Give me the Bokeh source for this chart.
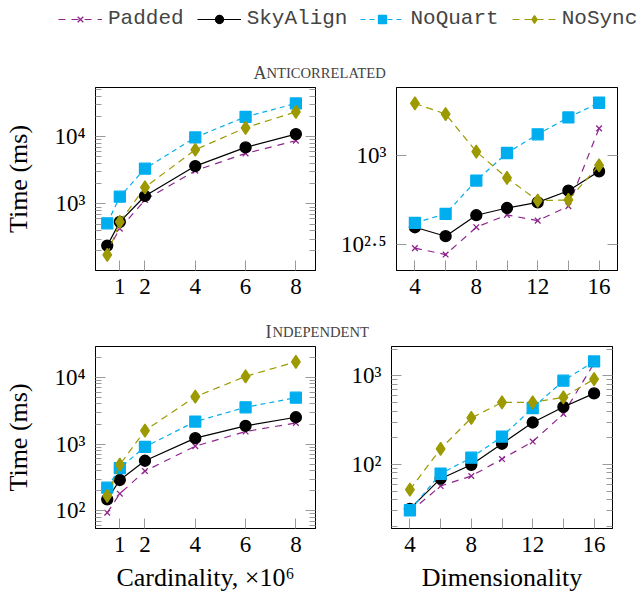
from bokeh.plotting import figure
from bokeh.models import (Range1d, FixedTicker, LogAxis, Label, Legend, LegendItem,
                          CustomJSTickFormatter)
from bokeh.layouts import column, row
from bokeh.embed import file_html
from bokeh.resources import INLINE

# ---------------- data ----------------
series_names = ["Padded", "SkyAlign", "NoQuart", "NoSync"]
card_x = [0.5, 1, 2, 4, 6, 8]
dim_x = [4, 6, 8, 10, 12, 14, 16]

anti_card_padded = [200, 430, 1145, 3130, 5650, 8730]
anti_card_skyalign = [240, 540, 1315, 3660, 6950, 10950]
anti_card_noquart = [516, 1285, 3350, 9780, 19800, 31300]
anti_card_nosync = [175, 540, 1770, 6410, 13600, 23500]

anti_dim_padded = [302, 278, 395, 463, 430, 518, 1408]
anti_dim_skyalign = [395, 352, 461, 506, 544, 632, 811]
anti_dim_noquart = [418, 469, 720, 1026, 1304, 1622, 1958]
anti_dim_nosync = [1941, 1693, 1044, 745, 556, 561, 876]

indep_card_padded = [94, 181, 395, 933, 1545, 2080]
indep_card_skyalign = [149, 290, 564, 1230, 1880, 2530]
indep_card_noquart = [223, 438, 912, 2180, 3560, 4970]
indep_card_nosync = [168, 492, 1600, 5140, 10350, 17100]

indep_dim_padded = [29.1, 57, 74, 115, 181, 371, 1380]
indep_dim_skyalign = [31.5, 69, 99, 171, 297, 445, 632]
indep_dim_noquart = [30.4, 78.5, 119, 206, 433, 879, 1450]
indep_dim_nosync = [51.9, 150, 334, 501, 501, 571, 918]

card_ticks = [1, 2, 4, 6, 8]
dim_ticks = [4, 8, 12, 16]
dim_unlabeled_ticks = [6, 10, 14]

# y tick positions (log axes) and their labels
yt_card_anti = [1000, 10000]
yt_dim_anti = [10 ** 2.5, 1000]
yt_card_ind = [100, 1000, 10000]
yt_dim_ind = [100, 1000]
ytick_labels = {"2": "10²", "2.5": "10²·⁵", "3": "10³", "4": "10⁴"}

# ---------------- styles ----------------
SERIF = "Liberation Serif"
MONO = "Liberation Mono"
TICK_COLOR = "#9a9a9a"

STYLE = {
    "Padded": dict(color="#8E258D", dash="7 6", marker="x", size=8),
    "SkyAlign": dict(color="#000000", dash="solid", marker="circle", size=11),
    "NoQuart": dict(color="#00AEEF", dash="5 4", marker="square", size=11),
    "NoSync": dict(color="#9C9A00", dash="7 5", marker="diamond", size=13),
}

LOG_FMT_CODE = """
const e = Math.round(Math.log10(tick) * 10) / 10;
const lab = labels[String(e)];
return lab === undefined ? String(tick) : lab;
"""


def log_formatter():
    return CustomJSTickFormatter(args=dict(labels=ytick_labels), code=LOG_FMT_CODE)


def add_series(p, x, y, name):
    st = STYLE[name]
    l = p.line(x, y, line_color=st["color"], line_width=1.2, line_dash=st["dash"])
    s = p.scatter(x, y, marker=st["marker"], size=st["size"],
                  fill_color=st["color"], line_color=st["color"], line_width=1.3)
    return l, s


def style_axis(ax):
    ax.axis_line_color = "black"
    ax.major_tick_in = 10
    ax.major_tick_out = 0
    ax.minor_tick_in = 6
    ax.minor_tick_out = 0
    ax.major_tick_line_color = TICK_COLOR
    ax.minor_tick_line_color = TICK_COLOR
    ax.major_label_text_font = SERIF
    ax.major_label_text_color = "black"
    ax.major_label_text_font_size = "23px"
    ax.axis_label_text_font = SERIF
    ax.axis_label_text_font_size = "26px"
    ax.axis_label_text_font_style = "normal"
    ax.axis_label_text_color = "black"


def panel(xs, ys_list, xr, yr, xticks, xminor, yticks, yminor,
          left, right, top, bottom, fw, fh, xlabel=None, ylabel=None):
    p = figure(frame_width=fw, frame_height=fh, y_axis_type="log",
               x_range=Range1d(*xr), y_range=Range1d(*yr), title=None,
               toolbar_location=None, output_backend="svg",
               min_border_left=left, min_border_right=right,
               min_border_top=top, min_border_bottom=bottom)
    p.xgrid.visible = False
    p.ygrid.visible = False
    p.outline_line_color = "black"
    p.outline_line_width = 1
    p.background_fill_color = "white"
    p.border_fill_color = "white"

    xa = p.xaxis[0]
    xa.ticker = FixedTicker(ticks=xticks, minor_ticks=xminor)
    style_axis(xa)
    xa.minor_tick_in = 10
    xa.major_label_standoff = 8
    if xlabel:
        xa.axis_label = xlabel
        xa.axis_label_standoff = 8

    ya = p.yaxis[0]
    ya.ticker = FixedTicker(ticks=yticks, minor_ticks=yminor)
    ya.formatter = log_formatter()
    style_axis(ya)
    ya.major_label_standoff = 10
    if ylabel:
        ya.axis_label = ylabel
        ya.axis_label_standoff = 18

    ra = LogAxis(ticker=FixedTicker(ticks=yticks, minor_ticks=yminor),
                 formatter=log_formatter())
    style_axis(ra)
    ra.major_label_text_font_size = "1px"
    ra.major_label_text_alpha = 0
    ra.major_label_standoff = 0
    p.add_layout(ra, "right")

    for name, ys in zip(series_names, ys_list):
        add_series(p, xs, ys, name)
    return p


minor_a = [200, 300, 400, 500, 600, 700, 800, 900,
           2000, 3000, 4000, 5000, 6000, 7000, 8000, 9000,
           20000, 30000, 40000, 50000]
minor_c = [60, 70, 80, 90, 200, 300, 400, 500, 600, 700, 800, 900,
           2000, 3000, 4000, 5000, 6000, 7000, 8000, 9000, 20000]
minor_d = [20, 30, 40, 50, 60, 70, 80, 90,
           200, 300, 400, 500, 600, 700, 800, 900, 2000]

p1 = panel(card_x, [anti_card_padded, anti_card_skyalign, anti_card_noquart, anti_card_nosync],
           (0.033, 8.78), (10 ** 2.01, 10 ** 4.733), card_ticks, [],
           yt_card_anti, minor_a,
           95, 22, 2, 35, 220, 183, ylabel="Time (ms)")
p2 = panel(dim_x, [anti_dim_padded, anti_dim_skyalign, anti_dim_noquart, anti_dim_nosync],
           (2.8, 17.2), (10 ** 2.355, 10 ** 3.377), dim_ticks, dim_unlabeled_ticks,
           yt_dim_anti, [],
           54, 31, 2, 35, 221, 183)
p3 = panel(card_x, [indep_card_padded, indep_card_skyalign, indep_card_noquart, indep_card_nosync],
           (0.033, 8.78), (10 ** 1.736, 10 ** 4.463), card_ticks, [],
           yt_card_ind, minor_c,
           95, 22, 6, 69, 220, 182, xlabel="Cardinality, ×10⁶", ylabel="Time (ms)")
p4 = panel(dim_x, [indep_dim_padded, indep_dim_skyalign, indep_dim_noquart, indep_dim_nosync],
           (2.8, 17.2), (10 ** 1.277, 10 ** 3.33), dim_ticks, dim_unlabeled_ticks,
           yt_dim_ind, minor_d,
           54, 31, 6, 69, 221, 182, xlabel="Dimensionality")


# ---------------- header: legend + first title ----------------
def strip(h):
    f = figure(width=643, height=h, x_range=Range1d(0, 643), y_range=Range1d(h, 0),
               title=None, toolbar_location=None, output_backend="svg",
               x_axis_location=None, y_axis_location=None, min_border=0)
    f.grid.visible = False
    f.outline_line_color = None
    f.background_fill_color = "white"
    f.border_fill_color = "white"
    return f


hdr = strip(85)
nan = float("nan")
items = []
for name in series_names:
    st = STYLE[name]
    l = hdr.line([nan], [nan], line_color=st["color"], line_width=1.2, line_dash=st["dash"])
    s = hdr.scatter([nan], [nan], marker=st["marker"], size=st["size"] - 1,
                    fill_color=st["color"], line_color=st["color"], line_width=1.3)
    items.append(LegendItem(label=name, renderers=[l, s]))

leg = Legend(items=items, orientation="horizontal", location=(58, 55),
             glyph_width=44, glyph_height=20, label_standoff=6, spacing=13,
             padding=0, margin=0, border_line_alpha=0, background_fill_alpha=0,
             label_text_font=MONO, label_text_font_size="21px",
             label_height=20, label_text_baseline="middle")
hdr.add_layout(leg)

hdr.add_layout(Label(x=253, y=72.5, text="A", text_font=SERIF, text_font_size="18px",
                     text_baseline="alphabetic", text_align="left"))
hdr.add_layout(Label(x=266, y=72.5, text="NTICORRELATED", text_font=SERIF,
                     text_font_size="14.6px", text_baseline="alphabetic", text_align="left"))

mid = strip(35)
mid.add_layout(Label(x=265, y=26, text="I", text_font=SERIF, text_font_size="18px",
                     text_baseline="alphabetic", text_align="left"))
mid.add_layout(Label(x=272, y=26, text="NDEPENDENT", text_font=SERIF,
                     text_font_size="14.6px", text_baseline="alphabetic", text_align="left"))

layout = column(hdr, row(p1, p2), mid, row(p3, p4))

with open("out.html", "w") as fh:
    fh.write(file_html(layout, INLINE))
